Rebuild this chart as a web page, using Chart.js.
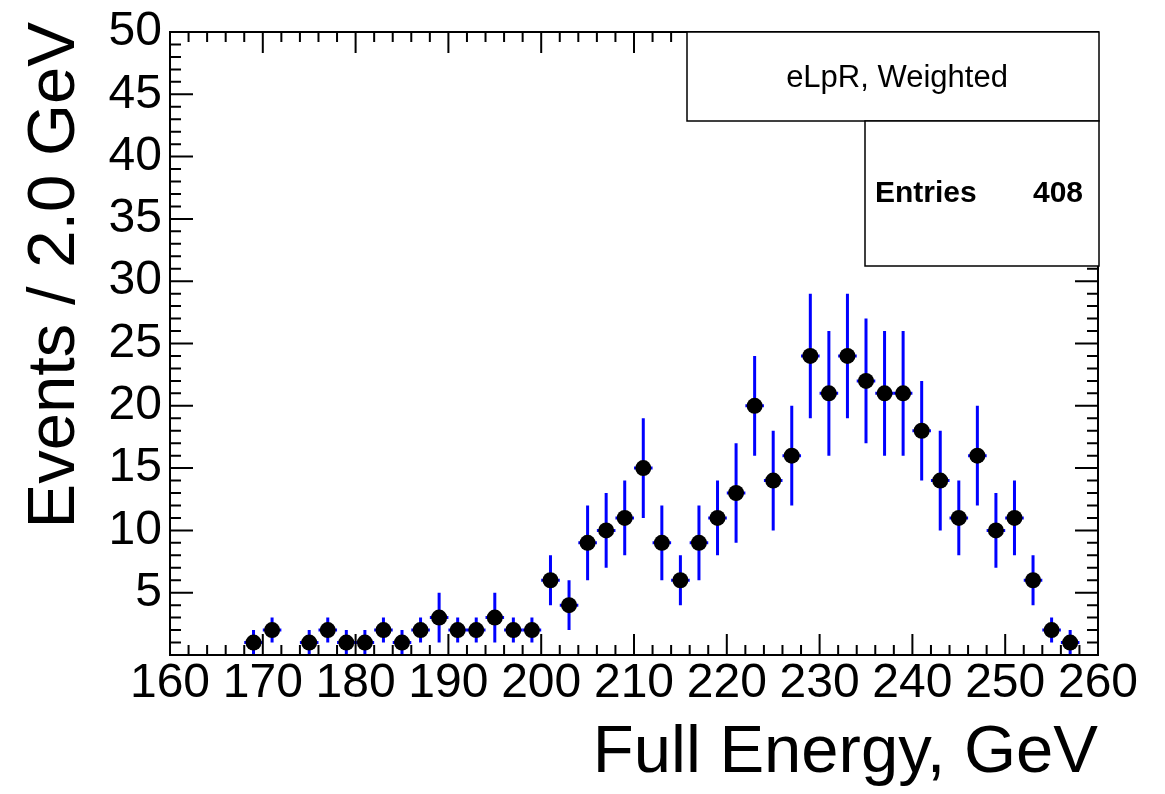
<!DOCTYPE html>
<html>
<head>
<meta charset="utf-8">
<title>Full Energy</title>
<script src="https://cdn.jsdelivr.net/npm/chart.js@4.4.1/dist/chart.umd.min.js"></script>
<style>
  html, body { margin: 0; padding: 0; background: #fff; }
  #wrap { width: 1165px; height: 794px; }
</style>
</head>
<body>
<div id="wrap"><canvas id="energyChart"></canvas></div>
<script>
// 2 GeV bins, centre values in GeV
const binCentres = [169, 171, 173, 175, 177, 179, 181, 183, 185, 187,
                    189, 191, 193, 195, 197, 199, 201, 203, 205, 207,
                    209, 211, 213, 215, 217, 219, 221, 223, 225, 227,
                    229, 231, 233, 235, 237, 239, 241, 243, 245, 247,
                    249, 251, 253, 255, 257];
const counts = [1, 2, 0, 1, 2, 1, 1, 2, 1, 2,
                3, 2, 2, 3, 2, 2, 6, 4, 9, 10,
                11, 15, 9, 6, 9, 11, 13, 20, 14, 16,
                24, 21, 24, 22, 21, 21, 18, 14, 11, 16,
                10, 11, 6, 2, 1];
const errors = [1, 1, 0, 1, 1, 1, 1, 1, 1, 1,
                2, 1, 1, 2, 1, 1, 2, 2, 3, 3,
                3, 4, 3, 2, 3, 3, 4, 4, 4, 4,
                5, 5, 5, 5, 5, 5, 4, 4, 3, 4,
                3, 3, 2, 1, 1];
const binHalfWidth = 1;
const histTitle = 'eLpR, Weighted';
const entries = 408;
const yTitle = 'Events / 2.0 GeV';

const FONT = '"Liberation Sans", Arial, Helvetica, sans-serif';

// empty bins are not drawn
const points = [];
binCentres.forEach((c, i) => {
  if (counts[i] > 0) points.push({ x: c, y: counts[i], err: errors[i] });
});

// blue error bars, drawn under the markers
const errorBars = {
  id: 'errorBars',
  beforeDatasetsDraw(chart) {
    const { ctx, chartArea: a, scales: { x, y } } = chart;
    ctx.save();
    ctx.beginPath();
    ctx.rect(a.left, a.top, a.right - a.left, a.bottom - a.top);
    ctx.clip();
    ctx.strokeStyle = '#0000ff';
    ctx.lineWidth = 3;
    ctx.lineCap = 'butt';
    points.forEach(p => {
      const px = x.getPixelForValue(p.x);
      const py = y.getPixelForValue(p.y);
      ctx.beginPath();
      ctx.moveTo(px, y.getPixelForValue(p.y - p.err));
      ctx.lineTo(px, y.getPixelForValue(p.y + p.err));
      ctx.moveTo(x.getPixelForValue(p.x - binHalfWidth), py);
      ctx.lineTo(x.getPixelForValue(p.x + binHalfWidth), py);
      ctx.stroke();
    });
    ctx.restore();
  }
};

// frame with inward ticks on all four sides, y title, then the stat boxes
const frameAndStats = {
  id: 'frameAndStats',
  afterDraw(chart) {
    const { ctx, chartArea: a, scales: { x, y } } = chart;
    ctx.save();
    ctx.strokeStyle = '#000';
    ctx.lineWidth = 2;
    ctx.strokeRect(a.left, a.top, a.right - a.left, a.bottom - a.top);

    ctx.beginPath();
    x.ticks.forEach(t => {
      const px = x.getPixelForValue(t.value);
      const len = t.value % 10 === 0 ? 21 : 10;
      ctx.moveTo(px, a.bottom);
      ctx.lineTo(px, a.bottom - len);
      ctx.moveTo(px, a.top);
      ctx.lineTo(px, a.top + len);
    });
    y.ticks.forEach(t => {
      const py = y.getPixelForValue(t.value);
      const len = t.value % 5 === 0 ? 23 : 11;
      ctx.moveTo(a.left, py);
      ctx.lineTo(a.left + len, py);
      ctx.moveTo(a.right, py);
      ctx.lineTo(a.right - len, py);
    });
    ctx.stroke();

    // y title, end of the text slightly above the frame
    ctx.save();
    ctx.translate(74, a.top - 10);
    ctx.rotate(-Math.PI / 2);
    ctx.fillStyle = '#000';
    ctx.font = '67px ' + FONT;
    ctx.textAlign = 'right';
    ctx.textBaseline = 'alphabetic';
    ctx.fillText(yTitle, 0, 0);
    ctx.restore();

    // title box
    ctx.lineWidth = 1.5;
    ctx.fillStyle = '#fff';
    ctx.fillRect(687, a.top, a.right + 1 - 687, 121 - a.top);
    ctx.strokeRect(687, a.top, a.right + 1 - 687, 121 - a.top);
    ctx.fillStyle = '#000';
    ctx.font = '31px ' + FONT;
    ctx.textAlign = 'center';
    ctx.textBaseline = 'alphabetic';
    ctx.fillText(histTitle, 897, 87);

    // entries box
    ctx.fillStyle = '#fff';
    ctx.fillRect(865, 121, a.right + 1 - 865, 266 - 121);
    ctx.strokeRect(865, 121, a.right + 1 - 865, 266 - 121);
    ctx.fillStyle = '#000';
    ctx.font = 'bold 30px ' + FONT;
    ctx.textAlign = 'left';
    ctx.fillText('Entries', 875, 202);
    ctx.textAlign = 'right';
    ctx.fillText(String(entries), 1083, 202);
    ctx.restore();
  }
};

new Chart(document.getElementById('energyChart'), {
  type: 'scatter',
  data: {
    datasets: [{
      data: points,
      pointRadius: 8,
      pointHoverRadius: 8,
      pointBackgroundColor: '#000',
      pointBorderWidth: 0,
      showLine: false
    }]
  },
  options: {
    responsive: true,
    maintainAspectRatio: false,
    animation: false,
    events: [],
    layout: { padding: { left: 6, top: 32, right: 67, bottom: 0 } },
    plugins: { legend: { display: false }, tooltip: { enabled: false } },
    scales: {
      x: {
        type: 'linear',
        min: 160,
        max: 260,
        afterFit: s => { s.height = 139; s.paddingLeft = 0; s.paddingRight = 0; },
        grid: { display: false, drawTicks: false },
        border: { display: false },
        ticks: {
          stepSize: 2,
          autoSkip: false,
          maxRotation: 0,
          minRotation: 0,
          padding: 0,
          color: '#000',
          font: { family: FONT, size: 48 },
          callback: v => (v % 10 === 0 ? String(v) : '')
        },
        title: {
          display: true,
          text: 'Full Energy, GeV',
          align: 'end',
          color: '#000',
          font: { family: FONT, size: 67 },
          padding: { top: 0, bottom: 0 }
        }
      },
      y: {
        min: 0,
        max: 50,
        afterFit: s => { s.width = 164; s.paddingTop = 0; s.paddingBottom = 0; },
        grid: { display: false, drawTicks: false },
        border: { display: false },
        ticks: {
          stepSize: 1,
          autoSkip: false,
          padding: 8,
          color: '#000',
          font: { family: FONT, size: 48 },
          callback: v => (v % 5 === 0 && v !== 0 ? String(v) : '')
        }
      }
    }
  },
  plugins: [errorBars, frameAndStats]
});
</script>
</body>
</html>
